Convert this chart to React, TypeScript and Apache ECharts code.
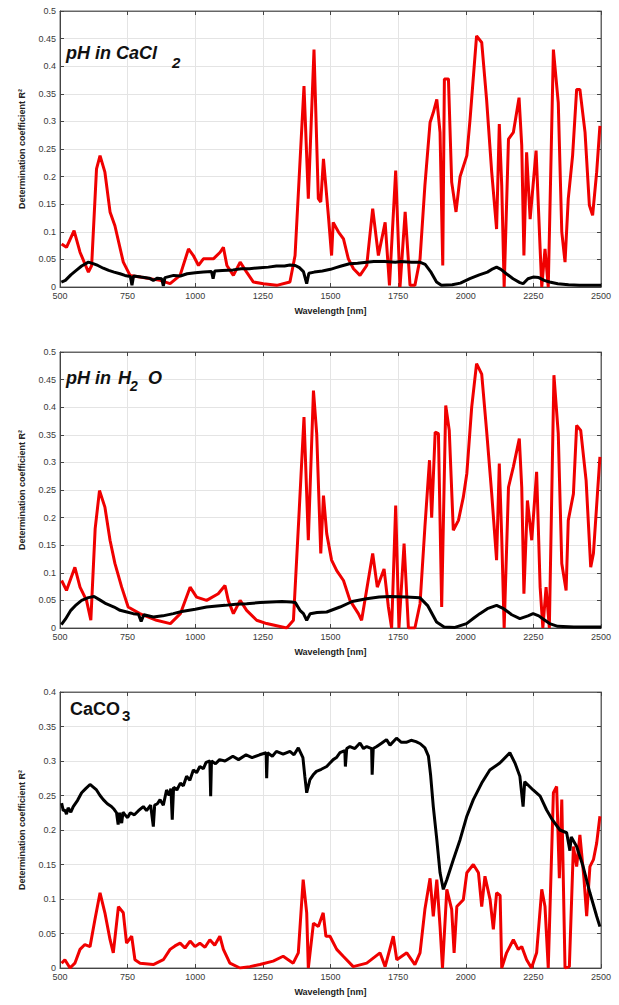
import React, { useEffect, useRef } from "react";
import * as echarts from "echarts";

// ---------- data: [wavelength nm, R^2] ----------
const cacl2Red: [number, number][] = [
  [506,0.078],[524,0.072],[552,0.102],[574,0.063],[605,0.027],[617,0.039],[635,0.214],[648,0.238],[666,0.208],[685,0.136],[703,0.111],[734,0.045],[759,0.021],[796,0.018],[870,0.012],[907,0.006],[944,0.021],[975,0.069],[993,0.057],[1012,0.039],[1030,0.051],[1067,0.051],[1092,0.063],[1104,0.072],[1117,0.039],[1141,0.021],[1166,0.045],[1190,0.027],[1215,0.009],[1252,0.006],[1301,0.003],[1350,0.009],[1369,0.057],[1402,0.364],[1418,0.16],[1439,0.43],[1455,0.16],[1464,0.154],[1474,0.232],[1492,0.13],[1504,0.057],[1510,0.117],[1529,0.1],[1548,0.087],[1566,0.051],[1585,0.033],[1609,0.021],[1634,0.039],[1656,0.142],[1677,0.057],[1702,0.117],[1718,0.003],[1741,0.211],[1757,0],[1776,0.136],[1794,0.003],[1812,0.003],[1831,0.051],[1849,0.184],[1868,0.298],[1880,0.316],[1893,0.34],[1905,0.28],[1915,0.039],[1921,0.377],[1936,0.377],[1948,0.19],[1964,0.136],[1979,0.2],[2004,0.238],[2016,0.304],[2040,0.455],[2059,0.443],[2077,0.34],[2096,0.208],[2114,0.105],[2124,0.295],[2133,0.184],[2142,0],[2158,0.268],[2176,0.28],[2197,0.343],[2207,0.256],[2215,0.057],[2225,0.244],[2238,0.123],[2260,0.247],[2275,0.069],[2281,0],[2293,0.069],[2305,0],[2324,0.43],[2342,0.334],[2355,0.1],[2367,0.045],[2379,0.16],[2395,0.238],[2410,0.358],[2422,0.358],[2441,0.28],[2457,0.148],[2469,0.13],[2484,0.208],[2496,0.292]
];
const cacl2Black: [number, number][] = [
  [505,0.009],[520,0.012],[540,0.022],[560,0.03],[580,0.038],[605,0.045],[625,0.042],[640,0.039],[660,0.034],[680,0.03],[700,0.027],[722,0.024],[740,0.021],[760,0.019],[766,0.003],[772,0.02],[800,0.018],[830,0.016],[845,0.012],[860,0.016],[876,0.015],[882,0.002],[888,0.017],[920,0.021],[945,0.02],[970,0.024],[1000,0.026],[1030,0.027],[1060,0.028],[1066,0.015],[1072,0.029],[1100,0.03],[1140,0.031],[1170,0.033],[1200,0.033],[1240,0.035],[1270,0.036],[1300,0.038],[1330,0.038],[1350,0.04],[1370,0.039],[1385,0.035],[1400,0.028],[1412,0.006],[1420,0.025],[1440,0.027],[1470,0.029],[1500,0.032],[1520,0.035],[1540,0.038],[1570,0.042],[1600,0.043],[1633,0.045],[1660,0.046],[1700,0.046],[1740,0.045],[1760,0.046],[1800,0.045],[1830,0.045],[1850,0.041],[1870,0.028],[1892,0.009],[1910,0.003],[1950,0.004],[1980,0.007],[2015,0.015],[2050,0.022],[2080,0.027],[2100,0.033],[2114,0.036],[2130,0.032],[2150,0.024],[2175,0.015],[2200,0.008],[2212,0.006],[2230,0.015],[2249,0.018],[2270,0.017],[2290,0.012],[2310,0.009],[2340,0.006],[2380,0.004],[2420,0.003],[2460,0.003],[2500,0.003]
];
const h2oRed: [number, number][] = [
  [506,0.086],[524,0.068],[555,0.11],[574,0.074],[598,0.05],[614,0.014],[630,0.18],[646,0.249],[666,0.219],[685,0.159],[703,0.117],[728,0.074],[752,0.038],[795,0.026],[857,0.014],[908,0.008],[945,0.026],[981,0.074],[1005,0.056],[1042,0.05],[1085,0.062],[1110,0.077],[1122,0.05],[1141,0.026],[1166,0.05],[1190,0.032],[1227,0.014],[1264,0.008],[1338,0],[1363,0.014],[1383,0.2],[1402,0.382],[1418,0.159],[1437,0.43],[1449,0.352],[1464,0.135],[1474,0.24],[1486,0.171],[1504,0.123],[1523,0.104],[1548,0.086],[1572,0.05],[1603,0.026],[1615,0.014],[1634,0.07],[1656,0.135],[1673,0.074],[1698,0.107],[1714,0.038],[1726,0],[1741,0.222],[1753,0],[1772,0.153],[1788,0],[1812,0],[1831,0.044],[1849,0.183],[1866,0.304],[1874,0.2],[1887,0.355],[1899,0.352],[1911,0.038],[1926,0.403],[1939,0.358],[1954,0.177],[1973,0.195],[1991,0.237],[2004,0.28],[2022,0.4],[2040,0.479],[2059,0.46],[2077,0.358],[2096,0.243],[2114,0.123],[2124,0.298],[2133,0.164],[2142,0],[2158,0.255],[2176,0.292],[2198,0.343],[2207,0.255],[2215,0.062],[2228,0.231],[2244,0.159],[2262,0.283],[2275,0.074],[2285,0],[2297,0.074],[2309,0],[2326,0.458],[2342,0.352],[2355,0.117],[2371,0.068],[2379,0.195],[2398,0.243],[2410,0.367],[2425,0.358],[2445,0.267],[2462,0.11],[2472,0.135],[2496,0.31]
];
const h2oBlack: [number, number][] = [
  [505,0.006],[520,0.016],[540,0.032],[560,0.042],[580,0.05],[605,0.055],[626,0.057],[650,0.05],[670,0.044],[700,0.038],[722,0.032],[740,0.03],[771,0.026],[790,0.025],[800,0.012],[810,0.024],[845,0.02],[880,0.022],[919,0.026],[950,0.03],[1000,0.034],[1042,0.038],[1080,0.04],[1110,0.041],[1150,0.043],[1190,0.044],[1240,0.046],[1280,0.047],[1320,0.048],[1355,0.047],[1370,0.046],[1387,0.032],[1400,0.026],[1412,0.014],[1425,0.026],[1450,0.028],[1486,0.029],[1535,0.038],[1580,0.048],[1633,0.053],[1680,0.056],[1720,0.057],[1780,0.056],[1830,0.055],[1860,0.04],[1892,0.011],[1920,0.002],[1960,0.001],[2003,0.008],[2030,0.018],[2052,0.026],[2080,0.035],[2114,0.041],[2140,0.035],[2170,0.024],[2200,0.017],[2230,0.022],[2249,0.026],[2270,0.022],[2290,0.015],[2310,0.008],[2340,0.003],[2400,0.002],[2450,0.002],[2500,0.002]
];
const caco3Red: [number, number][] = [
  [506,0.007],[518,0.012],[537,0],[555,0.007],[574,0.027],[592,0.034],[611,0.031],[629,0.07],[648,0.109],[666,0.08],[685,0.041],[697,0.022],[716,0.089],[734,0.08],[746,0.036],[765,0.046],[777,0.012],[796,0.007],[845,0.005],[882,0.012],[907,0.027],[925,0.032],[944,0.036],[962,0.029],[981,0.039],[999,0.031],[1017,0.036],[1036,0.03],[1054,0.041],[1072,0.033],[1091,0.046],[1104,0.027],[1128,0.007],[1165,0],[1202,0.002],[1239,0.005],[1288,0.01],[1325,0.017],[1362,0.007],[1381,0.022],[1399,0.128],[1412,0.08],[1418,0],[1437,0.065],[1455,0.06],[1473,0.08],[1483,0.046],[1498,0.046],[1523,0.027],[1547,0.017],[1584,0.002],[1634,0.007],[1683,0.022],[1702,0.002],[1732,0.046],[1745,0.012],[1782,0.022],[1812,0.005],[1831,0.022],[1849,0.085],[1868,0.13],[1880,0.075],[1893,0.128],[1905,0.06],[1914,0],[1930,0.114],[1948,0.085],[1957,0.022],[1967,0.089],[1991,0.099],[2004,0.138],[2028,0.15],[2047,0.138],[2059,0.089],[2071,0.133],[2090,0.099],[2102,0.056],[2114,0.109],[2127,0.105],[2133,0],[2151,0.022],[2176,0.041],[2194,0.027],[2207,0.031],[2225,0.012],[2243,0],[2262,0.022],[2281,0.114],[2293,0.089],[2305,0],[2324,0.254],[2336,0.263],[2346,0.13],[2355,0.244],[2367,0],[2383,0.002],[2398,0.176],[2410,0.147],[2422,0.193],[2437,0.13],[2447,0.075],[2459,0.147],[2472,0.157],[2484,0.181],[2496,0.22]
];
const caco3Black: [number, number][] = [
  [506,0.239],[512,0.228],[518,0.229],[524,0.223],[530,0.232],[540,0.226],[549,0.234],[565,0.243],[580,0.254],[595,0.26],[611,0.266],[623,0.262],[635,0.258],[648,0.25],[660,0.244],[675,0.238],[690,0.234],[700,0.23],[709,0.225],[715,0.208],[720,0.225],[728,0.21],[733,0.226],[740,0.222],[750,0.218],[760,0.225],[775,0.222],[790,0.228],[808,0.234],[820,0.228],[835,0.236],[845,0.205],[850,0.236],[860,0.238],[870,0.244],[882,0.236],[894,0.258],[903,0.25],[910,0.26],[915,0.215],[920,0.262],[932,0.258],[945,0.268],[956,0.264],[968,0.278],[980,0.272],[993,0.287],[1005,0.283],[1017,0.292],[1030,0.289],[1040,0.298],[1054,0.3],[1057,0.249],[1060,0.3],[1075,0.296],[1090,0.302],[1110,0.3],[1139,0.307],[1160,0.302],[1188,0.309],[1210,0.305],[1238,0.309],[1262,0.312],[1264,0.275],[1267,0.312],[1285,0.307],[1300,0.314],[1325,0.31],[1350,0.314],[1365,0.309],[1381,0.319],[1398,0.305],[1405,0.278],[1412,0.254],[1424,0.273],[1436,0.28],[1448,0.285],[1466,0.288],[1486,0.292],[1498,0.297],[1510,0.302],[1522,0.305],[1535,0.312],[1553,0.315],[1555,0.292],[1560,0.318],[1572,0.321],[1590,0.318],[1609,0.326],[1622,0.318],[1634,0.321],[1652,0.318],[1654,0.28],[1658,0.318],[1671,0.321],[1690,0.326],[1707,0.331],[1720,0.323],[1744,0.333],[1762,0.327],[1780,0.327],[1798,0.33],[1816,0.328],[1832,0.325],[1849,0.319],[1862,0.307],[1870,0.28],[1880,0.234],[1893,0.186],[1905,0.138],[1917,0.114],[1930,0.128],[1954,0.157],[1979,0.186],[2004,0.22],[2028,0.244],[2059,0.268],[2089,0.287],[2126,0.297],[2163,0.312],[2182,0.297],[2200,0.278],[2212,0.234],[2218,0.27],[2249,0.258],[2275,0.249],[2299,0.229],[2320,0.215],[2348,0.2],[2373,0.196],[2385,0.17],[2390,0.19],[2410,0.176],[2434,0.147],[2459,0.109],[2484,0.075],[2496,0.06]
];

const X_MIN = 500;
const X_MAX = 2500;
const X_STEP = 250;
const Y_STEP = 0.05;
const Y_MAXES = [0.5, 0.5, 0.4];
const X_NAME = "Wavelength [nm]";
const Y_NAME = "Determination coefficient R²";

const FONT = "Liberation Sans, Arial, sans-serif";

export default function App() {
  const ref = useRef<HTMLDivElement>(null);
  useEffect(() => {
    if (!ref.current) return;
    const chart = echarts.init(ref.current, undefined, { renderer: "svg" });
    const tops = [11, 352, 692];
    const H = 276;
    const reds = [cacl2Red, h2oRed, caco3Red];
    const blacks = [cacl2Black, h2oBlack, caco3Black];
    const grid: any[] = [];
    const xAxis: any[] = [];
    const yAxis: any[] = [];
    const series: any[] = [];
    const tick = { inside: true, length: 4, lineStyle: { color: "#444", width: 1 } };
    tops.forEach((top, i) => {
      grid.push({ left: 60, top, width: 541, height: H, show: true, borderColor: "#666", borderWidth: 1, backgroundColor: "#fff" });
      xAxis.push({
        gridIndex: i, type: "value", min: X_MIN, max: X_MAX, interval: X_STEP,
        axisLine: { show: true, onZero: false, lineStyle: { color: "#444" } },
        axisTick: tick,
        axisLabel: { fontSize: 9, color: "#3a3a3a", margin: 4, fontFamily: FONT, formatter: (v: number) => String(v) },
        splitLine: { show: true, lineStyle: { color: "#e4e4e4", width: 1 } },
        name: X_NAME, nameLocation: "middle", nameGap: 19,
        nameTextStyle: { fontWeight: "bold", fontSize: 9, color: "#222", fontFamily: FONT },
      });
      xAxis.push({
        gridIndex: i, type: "value", min: X_MIN, max: X_MAX, interval: X_STEP, position: "top",
        axisLine: { show: true, onZero: false, lineStyle: { color: "#666" } },
        axisTick: tick, axisLabel: { show: false }, splitLine: { show: false },
      });
      yAxis.push({
        gridIndex: i, type: "value", min: 0, max: Y_MAXES[i], interval: Y_STEP,
        axisLine: { show: true, onZero: false, lineStyle: { color: "#444" } },
        axisTick: tick,
        axisLabel: { fontSize: 9, color: "#3a3a3a", margin: 4, fontFamily: FONT, formatter: (v: number) => String(+v.toFixed(2)) },
        splitLine: { show: true, lineStyle: { color: "#e4e4e4", width: 1 } },
        name: Y_NAME, nameLocation: "middle", nameGap: 34,
        nameTextStyle: { fontWeight: "bold", fontSize: 9, color: "#222", fontFamily: FONT },
      });
      yAxis.push({
        gridIndex: i, type: "value", min: 0, max: Y_MAXES[i], interval: Y_STEP, position: "right",
        axisLine: { show: true, onZero: false, lineStyle: { color: "#666" } },
        axisTick: tick, axisLabel: { show: false }, splitLine: { show: false },
      });
      series.push({
        type: "line", xAxisIndex: i * 2, yAxisIndex: i * 2, data: reds[i], showSymbol: false, symbol: "none",
        lineStyle: { color: "#f00000", width: 3 }, z: 3,
      });
      series.push({
        type: "line", xAxisIndex: i * 2, yAxisIndex: i * 2, data: blacks[i], showSymbol: false, symbol: "none",
        lineStyle: { color: "#000", width: 3 }, z: 4,
      });
    });
    const ts = (fontStyle: string, size: number) => ({
      fill: "#111", fontSize: size, fontWeight: "bold", fontStyle, fontFamily: FONT,
    });
    const graphic = [
      { type: "text", left: 66, top: 44, z: 10, style: { text: "pH in CaCl", ...ts("italic", 18) } },
      { type: "text", left: 172, top: 55, z: 10, style: { text: "2", ...ts("italic", 15) } },
      { type: "text", left: 66, top: 369, z: 10, style: { text: "pH in", ...ts("italic", 18) } },
      { type: "text", left: 118, top: 369, z: 10, style: { text: "H", ...ts("italic", 18) } },
      { type: "text", left: 130, top: 379, z: 10, style: { text: "2", ...ts("italic", 14) } },
      { type: "text", left: 148, top: 369, z: 10, style: { text: "O", ...ts("italic", 18) } },
      { type: "text", left: 70, top: 700, z: 10, style: { text: "CaCO", ...ts("normal", 18) } },
      { type: "text", left: 122, top: 708, z: 10, style: { text: "3", ...ts("normal", 15) } },
    ];
    chart.setOption({ animation: false, backgroundColor: "#fff", grid, xAxis, yAxis, series, graphic });
    return () => chart.dispose();
  }, []);
  return <div ref={ref} style={{ position: "absolute", left: 0, top: 0, width: 619, height: 1005 }} />;
}
